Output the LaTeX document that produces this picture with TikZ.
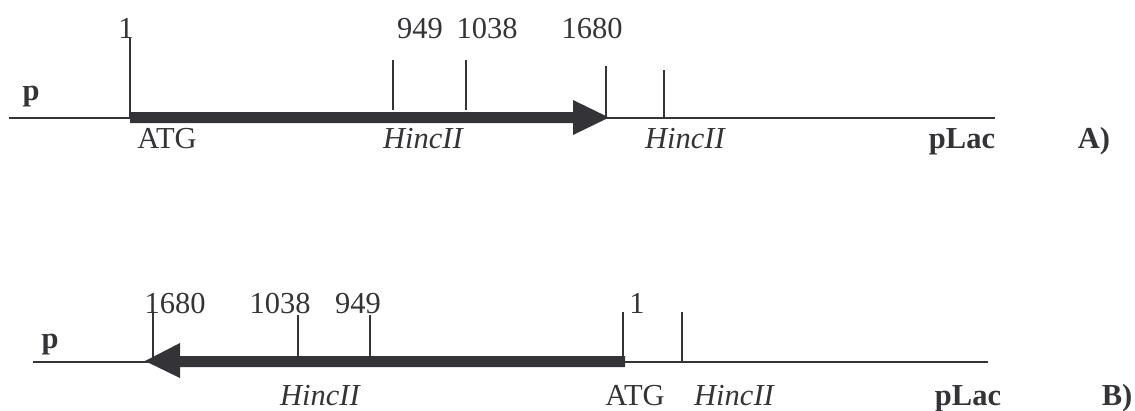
\documentclass[tikz,border=0pt]{standalone}
\usepackage{fontspec}
\setmainfont{Liberation Serif}
\definecolor{ink}{RGB}{52,52,56}
\begin{document}
\begin{tikzpicture}[x=1pt,y=-1pt,
  dna/.style={draw=ink,line width=2pt},
  site/.style={draw=ink,line width=2pt},
  gene/.style={fill=ink},
  lbl/.style={anchor=base,inner sep=0pt,text=ink,font=\fontsize{30.5}{36}\selectfont},
  ilbl/.style={lbl,font=\fontsize{30.5}{36}\selectfont\itshape},
  blbl/.style={lbl,font=\fontsize{30.5}{36}\selectfont\bfseries}]
\useasboundingbox (0,0) rectangle (1135,410);

% ---- A) gene in forward orientation ----
\draw[dna] (9,118) -- (995,118);
\fill[gene] (130,112) -- (573,112) -- (573,100) -- (609,117.5) -- (573,135)
  -- (573,123) -- (130,123) -- cycle;
\draw[site] (130,38) -- (130,118);
\draw[site] (393,60) -- (393,110);
\draw[site] (466,60) -- (466,110);
\draw[site] (606,66) -- (606,118);
\draw[site] (664,70) -- (664,118);

\node[lbl]  (a1)    at (126,38)  {1};
\node[lbl]  (a949)  at (420,38)  {949};
\node[lbl]  (a1038) at (487,38)  {1038};
\node[lbl]  (a1680) at (592,38)  {1680};
\node[blbl] (ap)    at (31,100)  {p};
\node[lbl]  (aatg)  at (167,148) {ATG};
\node[ilbl] (ah1)   at (423,148) {HincII};
\node[ilbl] (ah2)   at (685,148) {HincII};
\node[blbl] (alac)  at (962,148) {pLac};
\node[blbl] (atag)  at (1094,148) {A)};

% ---- B) gene in reverse orientation ----
\draw[dna] (33,362) -- (988,362);
\fill[gene] (625,356) -- (180,356) -- (180,343) -- (145,361) -- (180,378)
  -- (180,367) -- (625,367) -- cycle;
\draw[site] (153,312) -- (153,360);
\draw[site] (298,315) -- (298,358);
\draw[site] (370,315) -- (370,358);
\draw[site] (623,312) -- (623,360);
\draw[site] (682,312) -- (682,362);

\node[lbl]  (b1680) at (175,313) {1680};
\node[lbl]  (b1038) at (280,313) {1038};
\node[lbl]  (b949)  at (358,313) {949};
\node[lbl]  (b1)    at (637,313) {1};
\node[blbl] (bp)    at (50,348)  {p};
\node[ilbl] (bh1)   at (320,405) {HincII};
\node[lbl]  (batg)  at (635,405) {ATG};
\node[ilbl] (bh2)   at (734,405) {HincII};
\node[blbl] (blac)  at (968,405) {pLac};
\node[blbl] (btag)  at (1117,405) {B)};
\end{tikzpicture}
\end{document}
